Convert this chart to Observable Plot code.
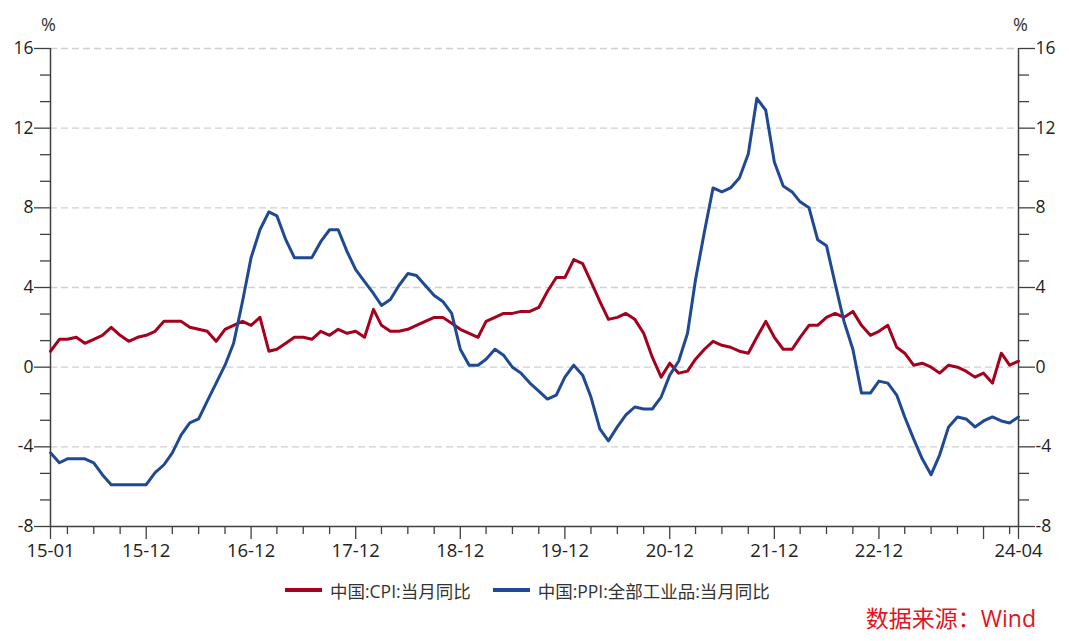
<!DOCTYPE html>
<html>
<head>
<meta charset="utf-8">
<script src="https://cdn.jsdelivr.net/npm/d3@7"></script>
<script src="https://cdn.jsdelivr.net/npm/@observablehq/plot@0.6"></script>
<style>
  html, body { margin: 0; padding: 0; background: #fff; }
  body { width: 1069px; height: 641px; position: relative; overflow: hidden;
         font-family: "Open Sans", "Noto Sans CJK SC", sans-serif; }
  #chart { position: absolute; left: 0; top: 0; }
  #legend { position: absolute; left: 285px; top: 578px; height: 24px; display: flex; align-items: center;
            font-size: 17.5px; color: #333; font-family: "Open Sans", "Noto Sans CJK SC", sans-serif; }
  .item { display: flex; align-items: center; margin-right: 22px; }
  .swatch { width: 37px; height: 4px; margin-right: 8px; }
  #caption { position: absolute; right: 33px; top: 600px; font-size: 23px; color: #E3131B;
             font-family: "Open Sans", "Noto Sans CJK SC", sans-serif; }
</style>
</head>
<body>
<div id="chart"></div>
<div id="legend"></div>
<div id="caption">数据来源：Wind</div>
<script>
// ---- data ----
const seriesNames = ["中国:CPI:当月同比", "中国:PPI:全部工业品:当月同比"];
const seriesColors = ["#A5001E", "#1F4A93"];
const startYear = 2015;
const cpi = [
  0.8, 1.4, 1.4, 1.5, 1.2, 1.4, 1.6, 2.0, 1.6, 1.3, 1.5, 1.6,
  1.8, 2.3, 2.3, 2.3, 2.0, 1.9, 1.8, 1.3, 1.9, 2.1, 2.3, 2.1,
  2.5, 0.8, 0.9, 1.2, 1.5, 1.5, 1.4, 1.8, 1.6, 1.9, 1.7, 1.8,
  1.5, 2.9, 2.1, 1.8, 1.8, 1.9, 2.1, 2.3, 2.5, 2.5, 2.2, 1.9,
  1.7, 1.5, 2.3, 2.5, 2.7, 2.7, 2.8, 2.8, 3.0, 3.8, 4.5, 4.5,
  5.4, 5.2, 4.3, 3.3, 2.4, 2.5, 2.7, 2.4, 1.7, 0.5, -0.5, 0.2,
  -0.3, -0.2, 0.4, 0.9, 1.3, 1.1, 1.0, 0.8, 0.7, 1.5, 2.3, 1.5,
  0.9, 0.9, 1.5, 2.1, 2.1, 2.5, 2.7, 2.5, 2.8, 2.1, 1.6, 1.8,
  2.1, 1.0, 0.7, 0.1, 0.2, 0.0, -0.3, 0.1, 0.0, -0.2, -0.5, -0.3,
  -0.8, 0.7, 0.1, 0.3
];
const ppi = [
  -4.3, -4.8, -4.6, -4.6, -4.6, -4.8, -5.4, -5.9, -5.9, -5.9, -5.9, -5.9,
  -5.3, -4.9, -4.3, -3.4, -2.8, -2.6, -1.7, -0.8, 0.1, 1.2, 3.3, 5.5,
  6.9, 7.8, 7.6, 6.4, 5.5, 5.5, 5.5, 6.3, 6.9, 6.9, 5.8, 4.9,
  4.3, 3.7, 3.1, 3.4, 4.1, 4.7, 4.6, 4.1, 3.6, 3.3, 2.7, 0.9,
  0.1, 0.1, 0.4, 0.9, 0.6, 0.0, -0.3, -0.8, -1.2, -1.6, -1.4, -0.5,
  0.1, -0.4, -1.5, -3.1, -3.7, -3.0, -2.4, -2.0, -2.1, -2.1, -1.5, -0.4,
  0.3, 1.7, 4.4, 6.8, 9.0, 8.8, 9.0, 9.5, 10.7, 13.5, 12.9, 10.3,
  9.1, 8.8, 8.3, 8.0, 6.4, 6.1, 4.2, 2.3, 0.9, -1.3, -1.3, -0.7,
  -0.8, -1.4, -2.5, -3.6, -4.6, -5.4, -4.4, -3.0, -2.5, -2.6, -3.0, -2.7,
  -2.5, -2.7, -2.8, -2.5
];
const xTickLabels = ["15-01", "15-12", "16-12", "17-12", "18-12", "19-12", "20-12", "21-12", "22-12", "24-04"];
const xUnlabeledMajor = ["23-12"];
const yTicks = [-8, -4, 0, 4, 8, 12, 16];
const yGridTicks = [-4, 0, 4, 8, 12, 16];

// ---- build ----
const dates = cpi.map((_, i) => new Date(Date.UTC(startYear, i, 1)));
const rows = dates.map((d, i) => ({date: d, cpi: cpi[i], ppi: ppi[i]}));
const parseYM = s => new Date(Date.UTC(2000 + +s.slice(0, 2), +s.slice(3) - 1, 1));
const fmtYM = d => String(d.getUTCFullYear() % 100).padStart(2, "0") + "-" + String(d.getUTCMonth() + 1).padStart(2, "0");
const labelSet = new Set(xTickLabels);
const majorDates = [...xTickLabels, ...xUnlabeledMajor].map(parseYM);
const majorSet = new Set(majorDates.map(fmtYM));
const minorDates = dates.filter(d => d.getUTCMonth() % 3 === 2 && !majorSet.has(fmtYM(d)));
const yStep = (yTicks[1] - yTicks[0]) / 3;
const yMinor = [];
for (let k = 0; k < yTicks.length - 1; k++) {
  yMinor.push(yTicks[k] + yStep, yTicks[k] + 2 * yStep);
}
const xDomain = [dates[0], dates[dates.length - 1]];
const axisColor = "#404040";
const fontFam = '"Open Sans", "Noto Sans CJK SC", sans-serif';

const chart = Plot.plot({
  width: 1069,
  height: 570,
  marginLeft: 50,
  marginRight: 51,
  marginTop: 48,
  marginBottom: 44,
  style: {fontFamily: fontFam, fontSize: "17px", color: "#222", background: "#fff"},
  x: {type: "utc", domain: xDomain},
  y: {domain: [yTicks[0], yTicks[yTicks.length - 1]]},
  marks: [
    Plot.gridY(yGridTicks, {stroke: "#d0d0d0", strokeOpacity: 1, strokeDasharray: "7,4", strokeWidth: 1.3}),
    Plot.axisX({ticks: minorDates, tickSize: 8, tickFormat: () => "", label: null, stroke: axisColor, strokeWidth: 1.3}),
    Plot.axisX({ticks: majorDates, tickSize: 13, tickPadding: 4, label: null, stroke: axisColor, strokeWidth: 1.3,
                tickFormat: d => labelSet.has(fmtYM(d)) ? fmtYM(d) : "", fontSize: 18.5}),
    Plot.axisY({anchor: "left", ticks: yMinor, tickSize: 10, tickFormat: () => "", label: null, stroke: axisColor, strokeWidth: 1.3}),
    Plot.axisY({anchor: "left", ticks: yTicks, tickSize: 16, tickPadding: 1, label: null, stroke: axisColor, strokeWidth: 1.3,
                tickFormat: d => String(d), fontSize: 17.5}),
    Plot.axisY({anchor: "right", ticks: yMinor, tickSize: 10, tickFormat: () => "", label: null, stroke: axisColor, strokeWidth: 1.3}),
    Plot.axisY({anchor: "right", ticks: yTicks, tickSize: 16, tickPadding: 1, label: null, stroke: axisColor, strokeWidth: 1.3,
                tickFormat: d => String(d), fontSize: 17.5}),
    Plot.ruleX(xDomain, {stroke: axisColor, strokeWidth: 1.5}),
    Plot.ruleY([yTicks[0]], {stroke: axisColor, strokeWidth: 1.5}),
    Plot.lineY(rows, {x: "date", y: "cpi", stroke: seriesColors[0], strokeWidth: 3}),
    Plot.lineY(rows, {x: "date", y: "ppi", stroke: seriesColors[1], strokeWidth: 3}),
    Plot.text(["%"], {frameAnchor: "top-left", textAnchor: "middle", dx: -2, dy: -30, fontSize: 18, fill: "#333"}),
    Plot.text(["%"], {frameAnchor: "top-right", textAnchor: "middle", dx: 2, dy: -30, fontSize: 18, fill: "#333"})
  ]
});
document.getElementById("chart").appendChild(chart);

const legend = document.getElementById("legend");
seriesNames.forEach((name, i) => {
  const it = document.createElement("div");
  it.className = "item";
  it.innerHTML = `<div class="swatch" style="background:${seriesColors[i]}"></div><span>${name}</span>`;
  legend.appendChild(it);
});
</script>
</body>
</html>
